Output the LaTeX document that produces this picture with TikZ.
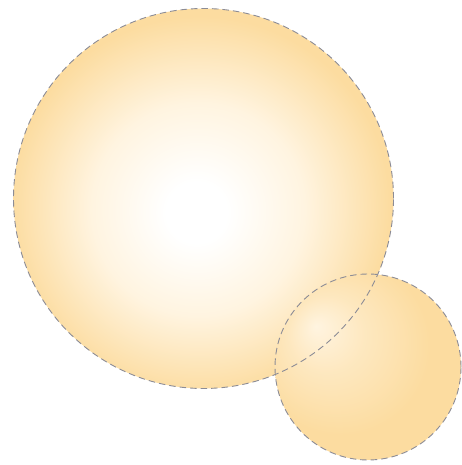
\documentclass[tikz,border=0pt]{standalone}
\usepackage{xcolor}
\usepackage{tikz}
\definecolor{peach}{RGB}{252,220,160}
\definecolor{peachlight}{RGB}{255,244,224}
\definecolor{rimgray}{RGB}{140,140,150}
\pgfdeclareradialshading{bigglow}{\pgfpoint{-1bp}{-2bp}}{%
  color(0bp)=(white); color(4bp)=(white); color(14bp)=(peachlight);
  color(25bp)=(peach); color(50bp)=(peach)}
\pgfdeclareradialshading{smallglow}{\pgfpoint{-14bp}{11bp}}{%
  color(0bp)=(peachlight); color(10bp)=(peachlight!50!peach);
  color(24bp)=(peach); color(50bp)=(peach)}

\begin{document}
\begin{tikzpicture}[
  x=1pt, y=1pt,
  rim/.style={draw=rimgray, line width=0.9pt, dash pattern=on 6.5pt off 4pt},
]
  \useasboundingbox (0,0) rectangle (461,465);
  \coordinate (big) at (203.5,266.5);
  \coordinate (small) at (368,98);

  % fills
  \shade[shading=bigglow] (big) circle (190);
  \shade[shading=smallglow] (small) circle (93);

  % dashed rims
  \draw[rim] (big) circle (190);
  \draw[rim] (small) circle (93);
\end{tikzpicture}
\end{document}
